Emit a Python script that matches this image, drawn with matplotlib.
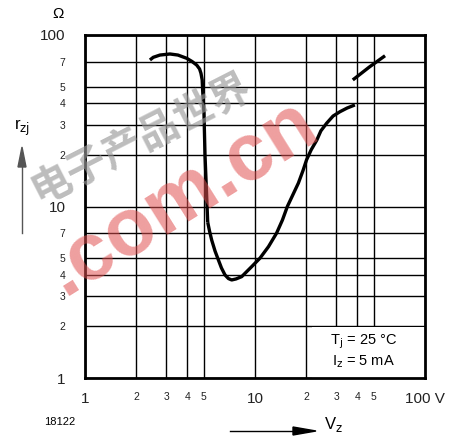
import matplotlib
matplotlib.use("Agg")
import matplotlib.pyplot as plt
from matplotlib.patches import Rectangle, Polygon

# ------------------------- #
#           DATA            #
# ------------------------- #

# upper branch (breakdown knee)
vz_knee = [2.41, 2.52, 2.76, 3.16, 3.52, 3.97, 4.26, 4.54, 4.72, 4.81, 4.89, 4.92,
           5.01, 5.08, 5.15, 5.27]
rz_knee = [71.5, 74.1, 76.4, 77.5, 76.4, 73.1, 70.1, 66.8, 63.4, 59.8, 54.7, 47.8,
           35.1, 20.0, 14.3, 8.1]

# main dip
vz_dip = [5.27, 5.40, 5.56, 5.82, 6.09, 6.35, 6.66, 6.98, 7.29, 7.73, 8.35, 9.56,
          10.7, 12.0, 13.4, 14.5, 15.5, 18.0, 19.2, 20.1, 21.4, 23.1, 24.4,
          26.4, 28.8, 31.6, 34.8, 38.7]
rz_dip = [8.1, 7.2, 6.38, 5.5, 4.88, 4.38, 3.99, 3.8, 3.73, 3.78, 3.9, 4.46,
          5.0, 5.83, 7.0, 8.34, 10.0, 13.7, 16.3, 18.7, 21.4, 24.4, 27.6,
          30.6, 33.7, 35.7, 37.5, 39.1]

# high-voltage branch
vz_high = [37.6, 47.0, 58.2]
rz_high = [54.7, 65.0, 75.7]

x_grid = [1, 2, 3, 4, 5, 10, 20, 30, 40, 50, 100]
x_labels = ["1", "2", "3", "4", "5", "10", "2", "3", "4", "5", "100 V"]
y_grid = [1, 2, 3, 4, 5, 7, 10, 20, 30, 40, 50, 70, 100]
y_labels = ["1", "2", "3", "4", "5", "7", "10", "2", "3", "4", "5", "7", "100"]
big_labels = {"1", "10", "100", "100 V"}

# ------------------------- #
#           PLOT            #
# ------------------------- #

fig = plt.figure(figsize=(4.52, 4.42), dpi=100)
ax = fig.add_axes([85 / 452, 1 - 378 / 442, 340 / 452, 343 / 442])
ax.set_xscale("log")
ax.set_yscale("log")
ax.set_xlim(1, 100)
ax.set_ylim(1, 100)

ax.set_xticks(x_grid)
ax.set_xticklabels(x_labels)
ax.set_yticks(y_grid)
ax.set_yticklabels(y_labels)
ax.minorticks_off()
ax.tick_params(length=0, pad=10, colors="#222222")
ax.tick_params(axis="y", pad=14)
for lab in ax.get_xticklabels() + ax.get_yticklabels():
    lab.set_fontsize(11 if lab.get_text() in big_labels else 7.5)
    lab.set_fontfamily("Liberation Sans")

ax.grid(True, color="black", lw=1.0)
for sp in ax.spines.values():
    sp.set_linewidth(2.0)

# blank box for the conditions note (grid stops at 2 Ohm there)
ax.add_patch(Rectangle((21.5, 1), 100 - 21.5, 0.98, facecolor="white",
                       edgecolor="none", zorder=2))

for vz, rz in [(vz_knee, rz_knee), (vz_dip, rz_dip), (vz_high, rz_high)]:
    ax.plot(vz, rz, color="black", lw=2.4, solid_capstyle="butt",
            solid_joinstyle="round", zorder=3)

ax.text(0.82, 0.079, "T$_\\mathrm{j}$ = 25 °C\nI$_\\mathrm{z}$ = 5 mA", transform=ax.transAxes,
        ha="center", va="center", fontsize=10.5, family="Liberation Sans",
        linespacing=1.2, zorder=4)

# watermark overlay
fig.text(182 / 452, 1 - 198 / 442, ".com.cn", rotation=32, ha="center", va="center",
         fontsize=58, fontweight="bold", color="#e05050", alpha=0.55,
         family="Liberation Sans", zorder=10)
fig.text(141 / 452, 1 - 138 / 442, "电子产品世界", rotation=27, ha="center", va="center",
         fontsize=29, fontweight="bold", color="#999999", alpha=0.65,
         family=["Noto Sans CJK SC", "DejaVu Sans"], zorder=10)

# axis annotations
fig.text(58 / 452, 1 - 14 / 442, "Ω", ha="center", va="center", fontsize=11,
         family="Liberation Sans")
fig.text(22 / 452, 1 - 128 / 442, "r$_\\mathrm{zj}$", ha="center", va="center",
         fontsize=12, family="Liberation Sans")
fig.add_artist(plt.Line2D([22 / 452, 22 / 452], [1 - 233 / 442, 1 - 160 / 442],
                          color="#555555", lw=1))
fig.patches.append(Polygon([[18 / 452, 1 - 167 / 442], [26 / 452, 1 - 167 / 442],
                            [22 / 452, 1 - 147 / 442]], closed=True,
                           color="#555555", transform=fig.transFigure))

fig.text(60 / 452, 1 - 422 / 442, "18122", ha="center", va="center", fontsize=8,
         family="Liberation Sans")
fig.add_artist(plt.Line2D([230 / 452, 300 / 452], [1 - 431 / 442, 1 - 431 / 442],
                          color="black", lw=1))
fig.patches.append(Polygon([[293 / 452, 1 - 427 / 442], [293 / 452, 1 - 435 / 442],
                            [316 / 452, 1 - 431 / 442]], closed=True,
                           color="black", transform=fig.transFigure))
fig.text(333 / 452, 1 - 425 / 442, "V$_\\mathrm{z}$", ha="center", va="center", fontsize=12,
         family="Liberation Sans")

fig.savefig("out.png", dpi=100)
